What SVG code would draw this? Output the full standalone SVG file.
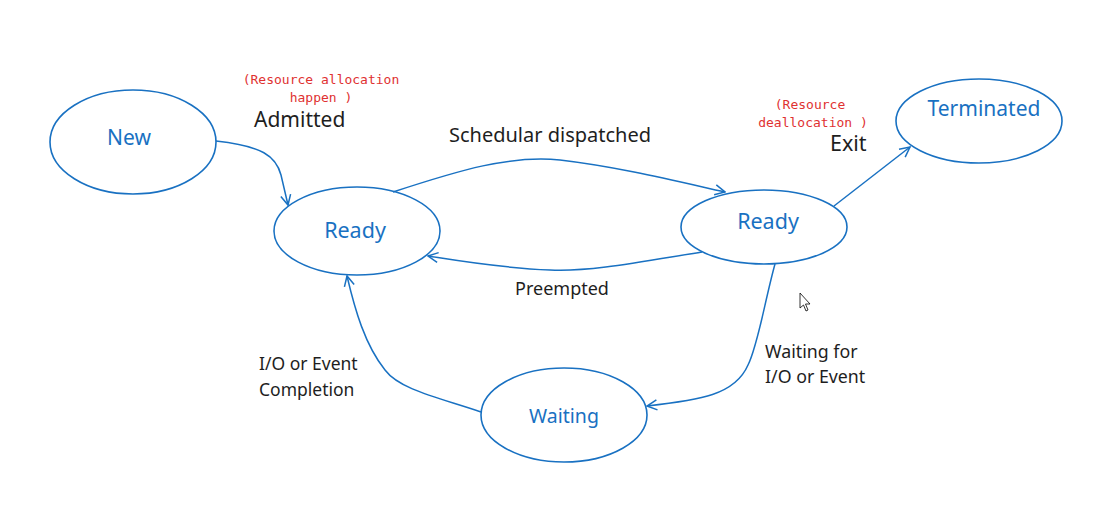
<svg xmlns="http://www.w3.org/2000/svg" width="1102" height="532" viewBox="0 0 1102 532">
<style>
.node{fill:none;stroke:#1971c2;stroke-width:1.6}
.nl{font-family:"Noto Sans","Open Sans",sans-serif;fill:#1971c2;text-anchor:middle;dominant-baseline:central}
.edge{fill:none;stroke:#1971c2;stroke-width:1.5}
.lbl{font-family:"Noto Sans","Open Sans",sans-serif;fill:#1e1e1e}
.red{font-family:"DejaVu Sans Mono","Liberation Mono",monospace;fill:#e03131;font-size:13px;text-anchor:middle}
</style>
<defs>
<marker id="arr" viewBox="0 0 12 12" refX="11" refY="6" markerWidth="12" markerHeight="12" markerUnits="userSpaceOnUse" orient="auto">
<path d="M1,1 L11,6 L1,11" fill="none" stroke="#1971c2" stroke-width="1.5"/>
</marker>
</defs>
<rect width="1102" height="532" fill="#ffffff"/>
<g id="new"><ellipse class="node" cx="133" cy="142" rx="83" ry="52"/><text class="nl" x="129" y="137" font-size="21">New</text></g>
<g id="ready1"><ellipse class="node" cx="357" cy="231" rx="83" ry="44"/><text class="nl" x="355" y="229" font-size="21.5">Ready</text></g>
<g id="ready2"><ellipse class="node" cx="764" cy="227" rx="83" ry="37"/><text class="nl" x="768" y="220" font-size="21.5">Ready</text></g>
<g id="terminated"><ellipse class="node" cx="979" cy="121" rx="83" ry="42"/><text class="nl" x="984" y="108" font-size="21">Terminated</text></g>
<g id="waiting"><ellipse class="node" cx="564" cy="415" rx="83" ry="47"/><text class="nl" x="564" y="415" font-size="19.5">Waiting</text></g>
<g id="connectors">
<path class="edge" marker-end="url(#arr)" d="M216,141 C262,146 276,156 281,175 L288,205"/>
<path class="edge" marker-end="url(#arr)" d="M393,192 C460,170 510,155 560,160 C620,167 680,182 725,192"/>
<path class="edge" marker-end="url(#arr)" d="M702,252 C640,262 590,272 550,270 C500,268 460,261 428,256"/>
<path class="edge" marker-end="url(#arr)" d="M834,206 L910,147"/>
<path class="edge" marker-end="url(#arr)" d="M775,264 C765,300 758,345 748,365 C735,395 700,400 647,406"/>
<path class="edge" marker-end="url(#arr)" d="M481,412 C440,398 400,390 385,370 C365,345 355,310 347,276"/>
</g>
<g id="labels">
<text class="red" x="321" y="84">(Resource allocation</text>
<text class="red" x="321" y="102">happen )</text>
<text class="lbl" x="254" y="127" font-size="21">Admitted</text>
<text class="lbl" x="550" y="142" font-size="20" text-anchor="middle">Schedular dispatched</text>
<text class="lbl" x="562" y="295" font-size="18" text-anchor="middle">Preempted</text>
<text class="red" x="810" y="109">(Resource</text>
<text class="red" x="813" y="127">deallocation )</text>
<text class="lbl" x="830" y="151" font-size="21.5">Exit</text>
<text class="lbl" x="765" y="358" font-size="17.8">Waiting for</text>
<text class="lbl" x="765" y="383" font-size="17.8">I/O or Event</text>
<text class="lbl" x="259" y="370" font-size="17.5">I/O or Event</text>
<text class="lbl" x="259" y="396" font-size="17.5">Completion</text>
</g>
<g id="cursor"><path d="M800,293 L800,308 L803.5,305 L806,311 L808,310 L805.5,304 L810,304 Z" fill="#ffffff" stroke="#000000" stroke-width="0.8"/></g>
</svg>
